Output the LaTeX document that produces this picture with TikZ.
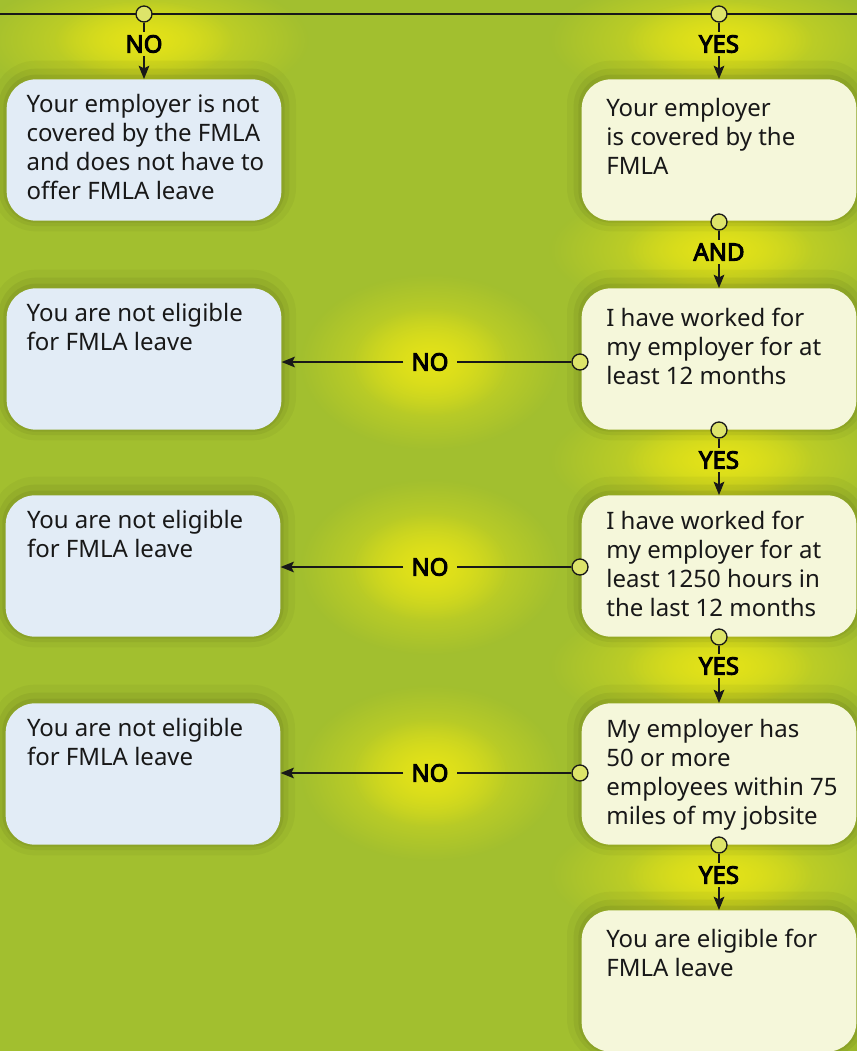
\documentclass[tikz,border=0pt]{standalone}
\usepackage{fontspec}
\setmainfont{Noto Sans}[AutoFakeBold=4]
\usetikzlibrary{arrows.meta,fadings}

\definecolor{bggreen}{RGB}{162,191,47}
\definecolor{glowyellow}{RGB}{228,227,24}
\definecolor{boxblue}{RGB}{226,236,246}
\definecolor{boxcream}{RGB}{245,247,218}
\definecolor{dotfill}{RGB}{221,228,106}
\definecolor{inkdark}{RGB}{24,24,24}

\tikzfading[name=glowfade, inner color=transparent!0, outer color=transparent!100]

\tikzset{
  answerbox/.style={rounded corners=22pt, minimum width=206pt, minimum height=106pt, inner sep=0pt,
    preaction={draw=black, draw opacity=0.035, line width=22pt, transform canvas={yshift=3pt}},
    preaction={draw=black, draw opacity=0.05, line width=12pt, transform canvas={yshift=2pt}},
    preaction={draw=black, draw opacity=0.06, line width=5pt, transform canvas={yshift=1pt}}},
  nobox/.style={answerbox, fill=boxblue},
  yesbox/.style={answerbox, fill=boxcream},
  boxtext/.style={anchor=north west, inner sep=0pt, align=left, text=inkdark,
    font=\fontsize{18pt}{21.75pt}\selectfont},
  dot/.style={circle, draw=inkdark, line width=1pt, fill=dotfill, minimum size=12pt, inner sep=0pt},
  answer/.style={font=\fontsize{18pt}{21.75pt}\selectfont\bfseries, text=black, inner xsep=6pt, inner ysep=2.5pt},
  link/.style={draw=inkdark, line width=1.25pt},
  linkarrow/.style={link, -{Stealth[length=10pt,width=8pt,inset=2pt]}},
  glow/.style={fill=glowyellow, path fading=glowfade}
}

\begin{document}
\begin{tikzpicture}[x=0.75pt,y=0.75pt,yscale=-1,xscale=1]
        \useasboundingbox (0,0) rectangle (857,1051);
        %Background
        \fill [bggreen] (0,0) rectangle (857,1051);

        %Glows behind the answers
        \foreach \gy in {40,250,460,666,875} {
          \fill [glow, opacity=0.85] (719,\gy) ellipse (170 and 66);
          \fill [glow] (719,\gy) ellipse (95 and 40);
        }
        \fill [glow, opacity=0.85] (144,40) ellipse (165 and 66);
        \fill [glow] (144,40) ellipse (90 and 40);
        \foreach \gy in {362,567,773} {
          \fill [glow, opacity=0.85] (430,\gy) ellipse (130 and 88);
          \fill [glow] (430,\gy) ellipse (78 and 54);
        }

        %Top line
        \coordinate (topleft) at (0,14);
        \coordinate (topright) at (857,14);
        \draw [link, line width=1.4pt] (topleft) -- (topright);

        %Boxes
        \node [nobox] (covno) at (144,150) {};
        \node [yesbox] (covyes) at (719,150) {};
        \node [nobox] (monthsno) at (144,359) {};
        \node [yesbox] (months) at (719,359) {};
        \node [nobox] (hoursno) at (143,566) {};
        \node [yesbox] (hours) at (719,566) {};
        \node [nobox] (staffno) at (143,774) {};
        \node [yesbox] (staff) at (719,774) {};
        \node [yesbox] (eligible) at (719,981) {};

        % Text Nodes
        \node [boxtext] (covnotext) at ([xshift=15pt,yshift=11.5pt]covno.north west) {Your employer is not\\covered by the FMLA\\and does not have to\\offer FMLA leave};
        \node [boxtext] (covyestext) at ([xshift=18.5pt,yshift=14pt]covyes.north west) {Your employer\\is covered by the\\FMLA};
        \node [boxtext] (monthsnotext) at ([xshift=15pt,yshift=11pt]monthsno.north west) {You are not eligible\\for FMLA leave};
        \node [boxtext] (monthstext) at ([xshift=18.5pt,yshift=15pt]months.north west) {I have worked for\\my employer for at\\least 12 months};
        \node [boxtext] (hoursnotext) at ([xshift=16pt,yshift=11.5pt]hoursno.north west) {You are not eligible\\for FMLA leave};
        \node [boxtext] (hourstext) at ([xshift=18.5pt,yshift=12pt]hours.north west) {I have worked for\\my employer for at\\least 1250 hours in\\the last 12 months};
        \node [boxtext] (staffnotext) at ([xshift=16pt,yshift=11pt]staffno.north west) {You are not eligible\\for FMLA leave};
        \node [boxtext] (stafftext) at ([xshift=18.5pt,yshift=12pt]staff.north west) {My employer has\\50 or more\\employees within 75\\miles of my jobsite};
        \node [boxtext] (eligibletext) at ([xshift=18.5pt,yshift=14pt]eligible.north west) {You are eligible for\\FMLA leave};

        %Connectors down the page
        \node [dot] (startno) at (144,14) {};
        \node [answer] (startnolabel) at (144,44) {NO};
        \draw [link] (startno) -- (startnolabel);
        \draw [linkarrow] (startnolabel) -- (covno.north);

        \node [dot] (startyes) at (719,14) {};
        \node [answer] (startyeslabel) at (719,44) {YES};
        \draw [link] (startyes) -- (startyeslabel);
        \draw [linkarrow] (startyeslabel) -- (covyes.north);

        \node [dot] (andout) at (719,222) {};
        \node [answer] (andlabel) at (719,252) {AND};
        \draw [link] (andout) -- (andlabel);
        \draw [linkarrow] (andlabel) -- (months.north);

        \node [dot] (monthsout) at (719,430) {};
        \node [answer] (monthsyes) at (719,460) {YES};
        \draw [link] (monthsout) -- (monthsyes);
        \draw [linkarrow] (monthsyes) -- (hours.north);

        \node [dot] (hoursout) at (719,637) {};
        \node [answer] (hoursyes) at (719,666) {YES};
        \draw [link] (hoursout) -- (hoursyes);
        \draw [linkarrow] (hoursyes) -- (staff.north);

        \node [dot] (staffout) at (719,845) {};
        \node [answer] (staffyes) at (719,875) {YES};
        \draw [link] (staffout) -- (staffyes);
        \draw [linkarrow] (staffyes) -- (eligible.north);

        %Connectors to the left
        \node [dot] (monthsleft) at (580,362) {};
        \node [answer] (monthsnolabel) at (430,362) {NO};
        \draw [link] (monthsleft) -- (monthsnolabel);
        \draw [linkarrow] (monthsnolabel) -- (monthsno.east |- monthsnolabel);

        \node [dot] (hoursleft) at (580,567) {};
        \node [answer] (hoursnolabel) at (430,567) {NO};
        \draw [link] (hoursleft) -- (hoursnolabel);
        \draw [linkarrow] (hoursnolabel) -- (hoursno.east |- hoursnolabel);

        \node [dot] (staffleft) at (580,773) {};
        \node [answer] (staffnolabel) at (430,773) {NO};
        \draw [link] (staffleft) -- (staffnolabel);
        \draw [linkarrow] (staffnolabel) -- (staffno.east |- staffnolabel);

\end{tikzpicture}
\end{document}
